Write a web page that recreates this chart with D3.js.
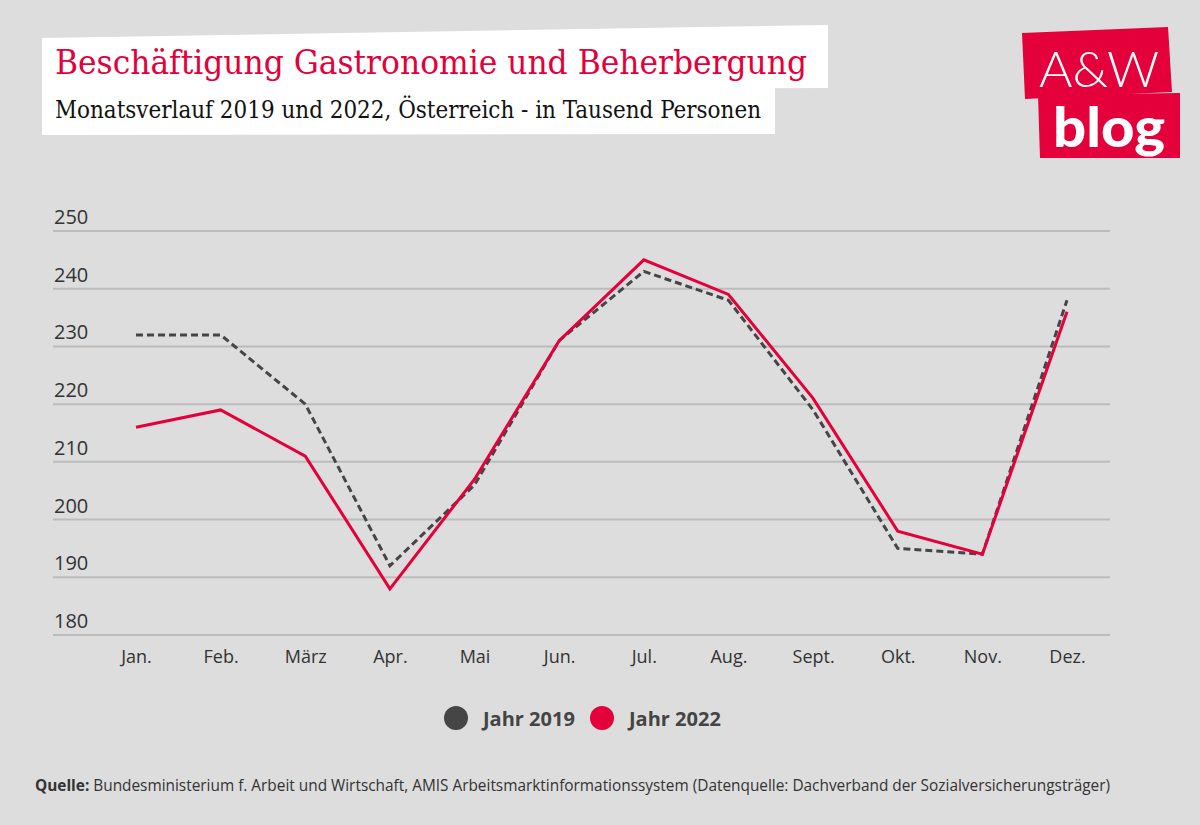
<!DOCTYPE html>
<html><head><meta charset="utf-8">
<script src="https://cdn.jsdelivr.net/npm/d3@7"></script>
<style>body{margin:0;background:#dddddd;}svg{display:block;}</style>
</head><body>
<svg id="c" width="1200" height="825"></svg>
<script>
const months = ["Jan.","Feb.","März","Apr.","Mai","Jun.","Jul.","Aug.","Sept.","Okt.","Nov.","Dez."];
const values2019 = [232,232,220,192,206,231,243,238,219,195,194,238];
const values2022 = [216,219,211,188,207,231,245,239,221,198,194,236];
const yTicks = [180,190,200,210,220,230,240,250];
const seriesNames = ["Jahr 2019","Jahr 2022"];

const svg = d3.select("#c");
svg.append("rect").attr("width",1200).attr("height",825).attr("fill","#dddddd");

const red = "#e4003a", dark = "#454545";
const x = d3.scalePoint().domain(months).range([136,1067]);
const y = d3.scaleLinear().domain([180,250]).range([635,231]);

// title boxes
svg.append("polygon").attr("points","42,38 828,25 828,88 42,90").attr("fill","#fff");
svg.append("polygon").attr("points","42,88 775,88 775,134 42,135").attr("fill","#fff");
svg.append("text").attr("x",55).attr("y",74).attr("fill",red)
  .attr("font-family","DejaVu Serif Condensed, DejaVu Serif, serif").attr("font-size",34)
  .attr("textLength",752).attr("lengthAdjust","spacingAndGlyphs")
  .text("Beschäftigung Gastronomie und Beherbergung");
svg.append("text").attr("x",55).attr("y",118).attr("fill","#111")
  .attr("font-family","DejaVu Serif Condensed, DejaVu Serif, serif").attr("font-size",24)
  .attr("textLength",706).attr("lengthAdjust","spacingAndGlyphs")
  .text("Monatsverlauf 2019 und 2022, Österreich - in Tausend Personen");

// logo
svg.append("polygon").attr("points","1022,33 1168,27 1172,92 1025,99").attr("fill",red);
svg.append("polygon").attr("points","1038,95 1180,93 1180,158 1040,158").attr("fill",red);
svg.append("text").attr("x",1099).attr("y",87).attr("text-anchor","middle").attr("fill","#fff")
  .attr("font-family","Lato, sans-serif").attr("font-weight",300).attr("font-size",50)
  .attr("textLength",120).attr("lengthAdjust","spacingAndGlyphs").text("A&W");
svg.append("text").attr("x",1109).attr("y",147).attr("text-anchor","middle").attr("fill","#fff")
  .attr("font-family","Lato, sans-serif").attr("font-weight",900).attr("font-size",56)
  .attr("textLength",112).attr("lengthAdjust","spacingAndGlyphs").text("blog");

// grid
const g = svg.append("g");
g.selectAll("line.grid").data(yTicks).join("line").attr("class","grid")
  .attr("x1",53).attr("x2",1110).attr("y1",d=>y(d)).attr("y2",d=>y(d))
  .attr("stroke","#bcbcbc").attr("stroke-width",2);
g.selectAll("text.yl").data(yTicks).join("text").attr("class","yl")
  .attr("x",54).attr("y",d=>y(d)-7).attr("fill","#333")
  .attr("font-family","Open Sans, sans-serif").attr("font-size",20).text(d=>d);

// x axis labels
const xAxis = d3.axisBottom(x).tickSize(0).tickPadding(0);
const xa = svg.append("g").attr("transform","translate(0,663)").call(xAxis);
xa.select(".domain").remove();
xa.selectAll("text").attr("fill","#333").attr("font-family","Open Sans, sans-serif")
  .attr("font-size",18).attr("dy","0");

// lines
const line = d3.line().x((d,i)=>x(months[i])).y(d=>y(d));
svg.append("path").datum(values2019).attr("d",line).attr("fill","none")
  .attr("stroke",dark).attr("stroke-width",3).attr("stroke-dasharray","7,4");
svg.append("path").datum(values2022).attr("d",line).attr("fill","none")
  .attr("stroke",red).attr("stroke-width",3).attr("stroke-linejoin","miter");

// legend
const leg = [{n:seriesNames[0],c:dark,x:456},{n:seriesNames[1],c:red,x:602}];
leg.forEach(l=>{
  svg.append("circle").attr("cx",l.x).attr("cy",718).attr("r",12).attr("fill",l.c);
  svg.append("text").attr("x",l.x+27).attr("y",726).attr("fill","#444")
    .attr("font-family","Open Sans, sans-serif").attr("font-weight",700).attr("font-size",20).text(l.n);
});

// source
const src = svg.append("text").attr("x",35).attr("y",791).attr("fill","#333")
  .attr("font-family","Open Sans, sans-serif").attr("font-size",16)
  .attr("textLength",1075).attr("lengthAdjust","spacingAndGlyphs");
src.append("tspan").attr("font-weight",700).text("Quelle:");
src.append("tspan").text(" Bundesministerium f. Arbeit und Wirtschaft, AMIS Arbeitsmarktinformationssystem (Datenquelle: Dachverband der Sozialversicherungsträger)");
</script>
</body></html>
